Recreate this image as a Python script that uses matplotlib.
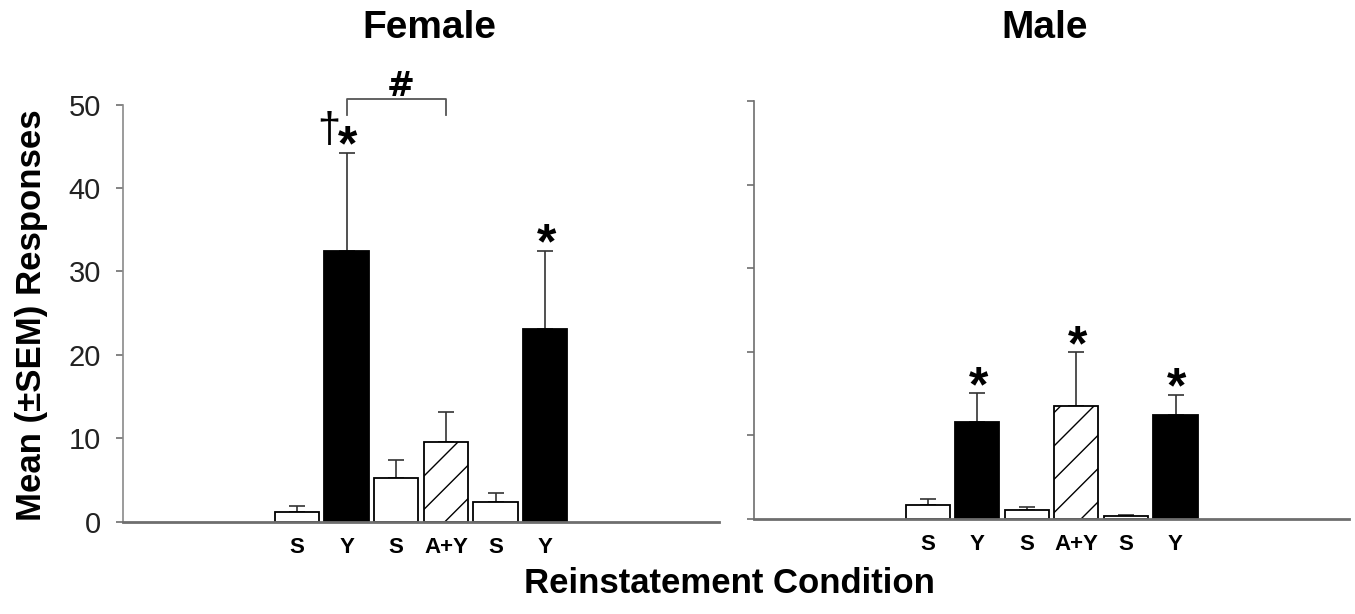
import matplotlib
matplotlib.use("Agg")
import matplotlib.pyplot as plt
import numpy as np

plt.rcParams['font.family'] = ['Liberation Sans', 'DejaVu Sans']
plt.rcParams['hatch.linewidth'] = 1.0

categories = ["S", "Y", "S", "A+Y", "S", "Y"]
female_mean = [1.2, 32.4, 5.3, 9.5, 2.4, 23.1]
female_sem = [0.7, 11.8, 2.1, 3.6, 1.1, 9.4]
male_mean = [1.6, 11.6, 1.0, 13.5, 0.3, 12.4]
male_sem = [0.7, 3.4, 0.4, 6.4, 0.2, 2.4]
female_stars = [1, 5]
male_stars = [1, 3, 5]
yticks = [0, 10, 20, 30, 40, 50]

faces = ["white", "black", "white", "white", "white", "black"]
hatches = [None, None, None, "/", None, None]

fig = plt.figure(figsize=(13.55, 6.14), dpi=100)
axL = fig.add_axes([0.0908, 0.1503, 0.4399, 0.6792])
axR = fig.add_axes([0.5565, 0.1552, 0.4391, 0.6803])

axis_col = "#6e6e6e"

def draw(ax, means, sems, stars, show_labels):
    x = np.arange(len(categories))
    for i in range(len(categories)):
        ax.bar(x[i], means[i], width=0.89, color=faces[i], edgecolor="black",
               linewidth=1.3, hatch=hatches[i], zorder=2)
        ax.errorbar(x[i], means[i], yerr=[[0], [sems[i]]], fmt="none",
                    ecolor="#333333", elinewidth=1.2, capsize=6, capthick=1.2, zorder=1)
    ax.set_xlim(-3.5, 8.5)
    ax.set_ylim(0, 50)
    ax.set_xticks(x)
    ax.set_xticklabels(categories, fontsize=16, fontweight="bold")
    ax.tick_params(axis="x", length=0, pad=11)
    ax.set_yticks(yticks)
    if show_labels:
        ax.set_yticklabels([str(v) for v in yticks], fontsize=21, color="#222222")
    else:
        ax.set_yticklabels([])
    ax.tick_params(axis="y", length=5, width=1.2, color=axis_col, pad=11)
    for s in ["top", "right"]:
        ax.spines[s].set_visible(False)
    ax.spines["left"].set_color("#8a8a8a" if show_labels else axis_col)
    ax.spines["left"].set_linewidth(1.2)
    ax.spines["bottom"].set_color(axis_col)
    ax.spines["bottom"].set_linewidth(2)
    for i in stars:
        ax.annotate("*", xy=(x[i], means[i] + sems[i]), xytext=(1, -5.5),
                    textcoords="offset points", ha="center", va="baseline",
                    fontsize=36, fontweight="bold", annotation_clip=False)

draw(axL, female_mean, female_sem, female_stars, True)
draw(axR, male_mean, male_sem, male_stars, False)

# dagger and comparison bracket on female panel
axL.annotate("\u2020", xy=(1, female_mean[1] + female_sem[1]), xytext=(-13, 8),
             textcoords="offset points", ha="center", va="baseline",
             fontsize=30, annotation_clip=False)
axL.plot([1, 1, 3, 3], [48.8, 50.7, 50.7, 48.8], color="#555555", lw=1.3,
         clip_on=False)
axL.text(2.08, 52.2, "#", ha="center", va="center", fontsize=24,
         fontweight="bold", family=["DejaVu Sans"], clip_on=False)

fig.text(0.317, 0.955, "Female", ha="center", va="center", fontsize=28, fontweight="bold")
fig.text(0.771, 0.955, "Male", ha="center", va="center", fontsize=28, fontweight="bold")
fig.text(0.023, 0.487, "Mean (\u00b1SEM) Responses", rotation=90, ha="center",
         va="center", fontsize=25, fontweight="bold")
fig.text(0.538, 0.049, "Reinstatement Condition", ha="center", va="center",
         fontsize=25, fontweight="bold")

fig.savefig("out.png", dpi=100, facecolor="white")
